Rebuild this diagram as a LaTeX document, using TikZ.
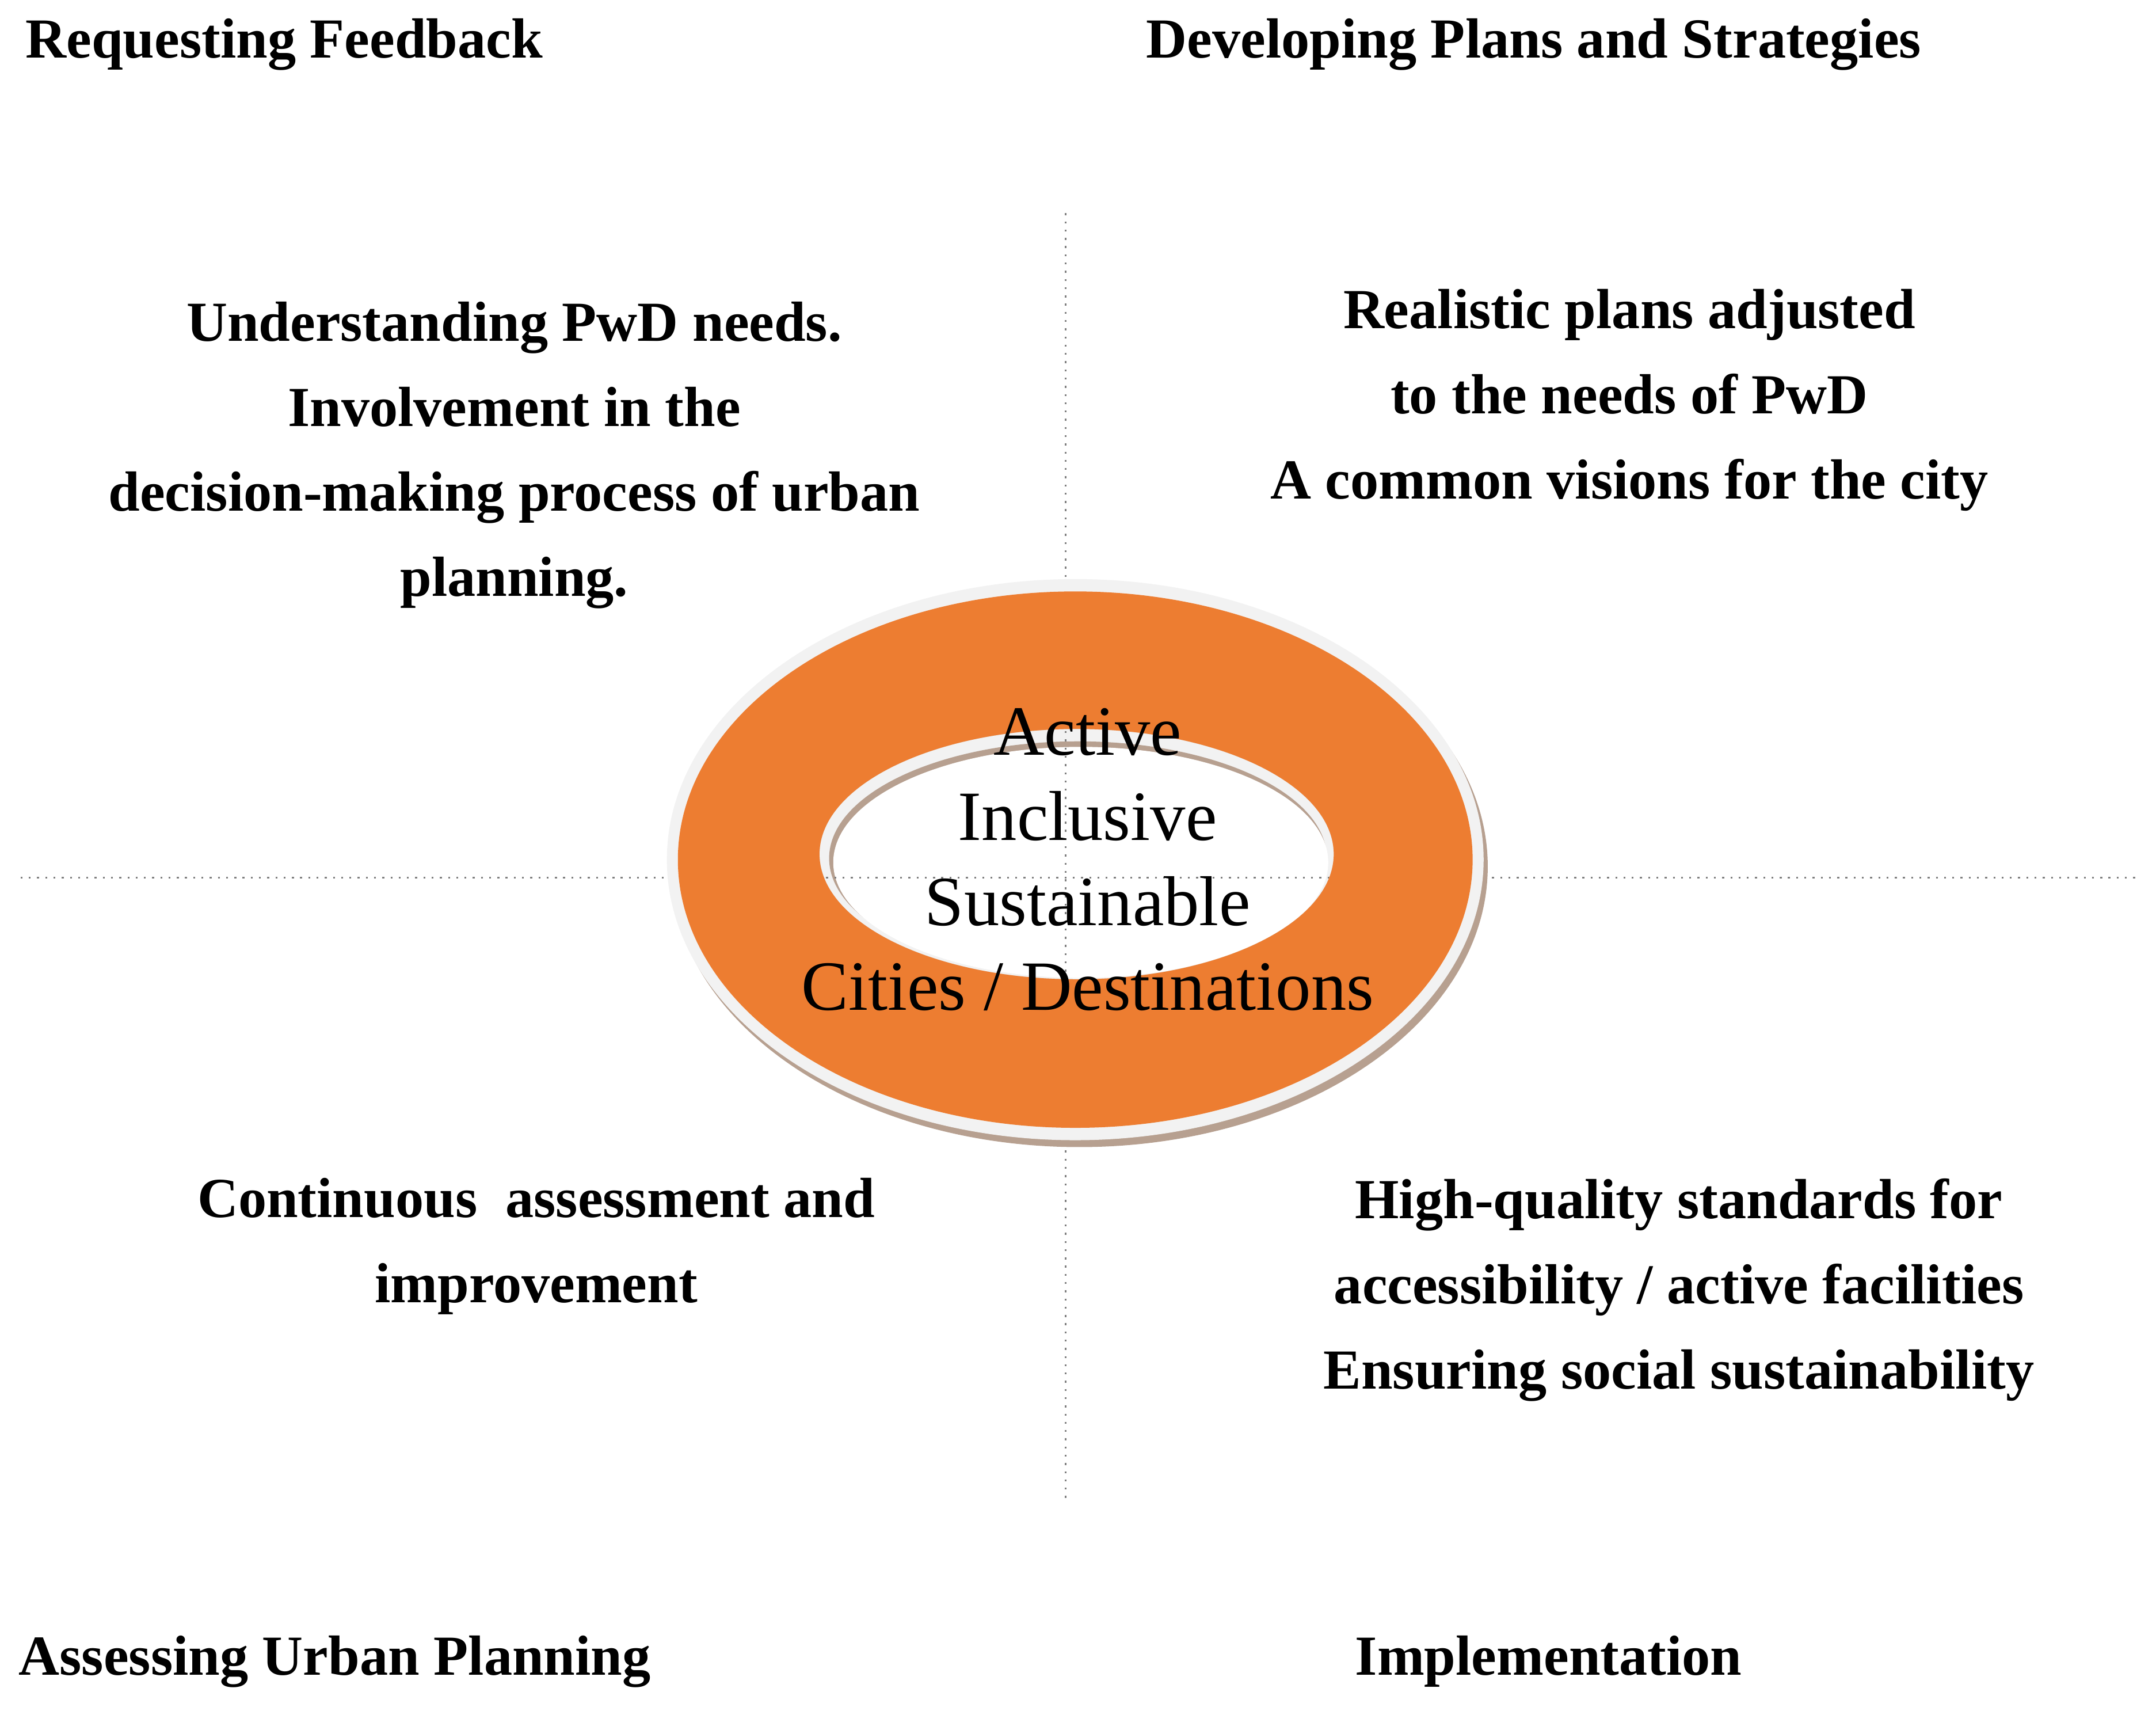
\documentclass[tikz,border=0pt]{standalone}
\usepackage{fontspec}
\setmainfont{Liberation Serif}
\definecolor{ringorange}{HTML}{ED7D31}
\definecolor{ringrim}{HTML}{F2F2F2}
\definecolor{ringshade}{HTML}{B7A090}
\tikzstyle{heading} = [font=\fontsize{11.7}{17.6}\selectfont\bfseries, anchor=base west, inner sep=0pt]
\tikzstyle{note} = [font=\fontsize{11.7}{17.6}\selectfont\bfseries, align=center, inner sep=0pt]
\tikzstyle{hub} = [font=\fontsize{14.6}{17.6}\selectfont, align=center, inner sep=0pt]
\tikzstyle{divider} = [gray, line width=0.4pt, dash pattern=on 0.4pt off 1.3pt]

\begin{document}
\begin{tikzpicture}[x=0.01cm, y=-0.01cm]
    \useasboundingbox (0,0) rectangle (1568,1244);

    % Centre of the ring and of its hole
    \coordinate (ring) at (782,625);
    \coordinate (hole) at (783,621);

    % Bevel inside the hole
    \begin{scope}
        \clip (hole) ellipse [x radius=187, y radius=91];
        \fill [ringrim] (hole) ellipse [x radius=187, y radius=91];
        \fill [ringshade] (784,624) ellipse [x radius=181, y radius=85];
        \fill [white] (786,627) ellipse [x radius=180, y radius=84];
    \end{scope}

    % Dotted axes
    \coordinate (vtop) at (775,155);
    \coordinate (vbot) at (775,1090);
    \coordinate (hleft) at (15,638);
    \coordinate (hright) at (1555,638);
    \draw [divider] (vtop) -- (vbot);
    \draw [divider] (hleft) -- (hright);

    % ==== Ring
    \fill [ringshade, even odd rule] (785,630) ellipse [x radius=297, y radius=204] (hole) ellipse [x radius=187, y radius=91];
    \fill [ringrim, even odd rule] (ring) ellipse [x radius=297, y radius=204] (hole) ellipse [x radius=187, y radius=91];
    \fill [ringorange, even odd rule] (ring) ellipse [x radius=289, y radius=195] (hole) ellipse [x radius=187, y radius=91];

    \node (hubtext) [hub] at (791,625) {Active\\Inclusive\\Sustainable\\Cities / Destinations};

    % Corner headings
    \node (feedback) [heading] at (18,42) {Requesting Feedback};
    \node (plans) [heading] at (833,42) {Developing Plans and Strategies};
    \node (assessing) [heading] at (13,1218) {Assessing Urban Planning};
    \node (implementation) [heading] at (985,1218) {Implementation};

    % Quadrant texts
    \node (needs) [note] at (374,331) {Understanding PwD needs.\\Involvement in the\\decision-making process of urban\\planning.};
    \node (realistic) [note] at (1185,291) {Realistic plans adjusted\\to the needs of PwD\\A common visions for the city};
    \node (assessment) [note] at (390,906) {Continuous\ \ assessment and\\improvement};
    \node (standards) [note] at (1221,938) {High-quality standards for\\accessibility / active facilities\\Ensuring social sustainability};

\end{tikzpicture}
\end{document}
